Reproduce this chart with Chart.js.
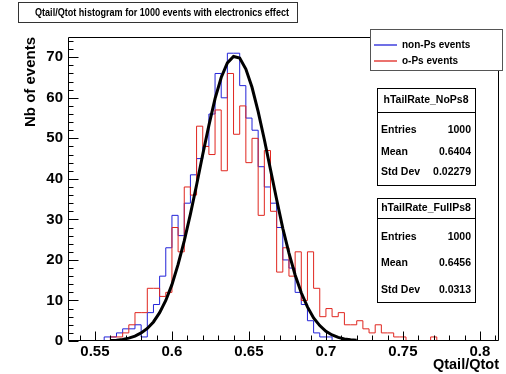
<!DOCTYPE html>
<html><head><meta charset="utf-8">
<script src="https://cdn.jsdelivr.net/npm/chart.js@4.4.0/dist/chart.umd.min.js"></script>
<style>html,body{margin:0;padding:0;background:#fff;overflow:hidden}canvas{display:block}</style>
</head><body>
<canvas id="c" width="506" height="374"></canvas>
<script>
// ---- data ----
const binEdges = [0.556,0.560,0.564,0.568,0.572,0.576,0.580,0.584,0.588,0.592,0.596,0.600,0.604,0.608,0.612,0.616,0.620,0.624,0.628,0.632,0.636,0.640,0.644,0.648,0.652,0.656,0.660,0.664,0.668,0.672,0.676,0.680,0.684,0.688,0.692,0.696,0.700,0.704,0.708,0.712,0.716,0.720,0.724,0.728,0.732,0.736,0.740,0.744,0.748,0.752,0.756,0.760,0.764,0.768,0.772,0.776];
const nonPsCounts = [0,1,1,2,3,3,4,1,7,9,16,23,31,26,34,41,45,48,56,66,60,71,71,63,55,52,43,38,34,28,20,18,12,9,5,2,1,1,0,0,0,0,0,0,0,0,0,0,0,0,0,0,0,0,0,0];
const oPsCounts = [0,0,1,1,2,4,7,7,13,13,11,12,28,22,38,36,53,48,46,57,42,66,51,58,44,50,31,47,32,17,23,16,22,10,22,13,6,8,6,7,4,4,5,3,2,4,2,2,1,1,0,0,0,0,1,0];
const curveX = [0.560,0.564,0.568,0.572,0.576,0.580,0.584,0.588,0.592,0.596,0.600,0.604,0.608,0.612,0.616,0.620,0.624,0.628,0.632,0.636,0.640,0.644,0.648,0.652,0.656,0.660,0.664,0.668,0.672,0.676,0.680,0.684,0.688,0.692,0.696,0.700,0.704,0.708,0.712,0.716,0.720];
const curveY = [0.1,0.2,0.4,0.7,1.2,2.0,3.1,4.7,7.0,10.0,13.9,18.9,24.7,31.3,38.5,46.0,53.2,59.8,65.0,68.6,70.2,69.8,67.1,62.6,56.6,49.7,42.3,34.9,27.8,21.7,16.3,11.9,8.4,5.7,3.8,2.4,1.5,0.9,0.5,0.3,0.2];
const xTickValues = [0.55,0.6,0.65,0.7,0.75,0.8];
const yTickValues = [0,10,20,30,40,50,60,70];
const titleText = 'Qtail/Qtot histogram for 1000 events with electronics effect';
const legendLabels = ['non-Ps events','o-Ps events'];
const statsNoPsName = 'hTailRate_NoPs8';
const statsNoPsRows = [['Entries','1000'],['Mean','0.6404'],['Std Dev','0.02279']];
const statsFullPsName = 'hTailRate_FullPs8';
const statsFullPsRows = [['Entries','1000'],['Mean','0.6456'],['Std Dev','0.0313']];

const FONT = "'Liberation Sans', Arial, Helvetica, sans-serif";
const BLUE = '#2323d8';
const RED = '#e0261f';

const decor = {
  id: 'decor',
  afterDatasetsDraw(chart) {
    const {ctx, chartArea: a, scales: {x, y}} = chart;
    ctx.save();
    ctx.strokeStyle = '#000';
    ctx.lineWidth = 1;
    const L = Math.round(a.left) + 0.5, R = Math.round(a.right) - 0.5;
    const T = Math.round(a.top) + 0.5, B = Math.round(a.bottom) - 0.5;
    ctx.beginPath();
    ctx.rect(L, T, R - L, B - T);
    ctx.stroke();
    ctx.beginPath();
    for (let k = 54; k <= 81; k++) {
      const px = Math.round(x.getPixelForValue(k / 100)) + 0.5;
      if (px < a.left || px > a.right) continue;
      const len = (k % 5 === 0) ? 9 : 5;
      ctx.moveTo(px, B); ctx.lineTo(px, B - len);
    }
    for (let k = 0; k <= 74; k += 2) {
      const py = Math.round(y.getPixelForValue(k)) + 0.5;
      const len = (k % 10 === 0) ? 10 : 5;
      ctx.moveTo(L, py); ctx.lineTo(L + len, py);
    }
    ctx.stroke();
    ctx.restore();
  },
  afterDraw(chart) {
    const ctx = chart.ctx;
    ctx.save();
    ctx.lineWidth = 1;
    // Title box
    ctx.fillStyle = '#fff';
    ctx.strokeStyle = '#333';
    ctx.fillRect(18.5, 2.5, 279, 20);
    ctx.strokeRect(18.5, 2.5, 279, 20);
    ctx.fillStyle = '#000';
    ctx.font = `bold 10.5px ${FONT}`;
    ctx.textBaseline = 'middle';
    ctx.textAlign = 'left';
    ctx.fillText(titleText, 35, 13, 254);

    // Legend
    ctx.fillStyle = '#fff';
    ctx.fillRect(370.5, 29.5, 132, 41);
    ctx.strokeStyle = '#555';
    ctx.strokeRect(370.5, 29.5, 132, 41);
    const cols = [BLUE, RED];
    const ly = [45, 61];
    ctx.font = `bold 10px ${FONT}`;
    for (let i = 0; i < 2; i++) {
      ctx.beginPath();
      ctx.strokeStyle = cols[i];
      ctx.lineWidth = 1.3;
      ctx.moveTo(374, ly[i]); ctx.lineTo(397, ly[i]);
      ctx.stroke();
      ctx.fillStyle = '#000';
      ctx.fillText(legendLabels[i], 402, ly[i]);
    }
    ctx.lineWidth = 1;

    function stats(x0, y0, x1, y1, name, nameY, sepY, rows, rowYs) {
      ctx.fillStyle = '#fff';
      ctx.fillRect(x0 + 0.5, y0 + 0.5, x1 - x0, y1 - y0);
      ctx.strokeStyle = '#000';
      ctx.strokeRect(x0 + 0.5, y0 + 0.5, x1 - x0, y1 - y0);
      ctx.beginPath();
      ctx.moveTo(x0, sepY + 0.5); ctx.lineTo(x1, sepY + 0.5);
      ctx.stroke();
      ctx.fillStyle = '#000';
      ctx.font = `bold 10.5px ${FONT}`;
      ctx.textAlign = 'center';
      ctx.fillText(name, (x0 + x1) / 2, nameY);
      rows.forEach((r, i) => {
        ctx.textAlign = 'left';
        ctx.fillText(r[0], x0 + 4, rowYs[i]);
        ctx.textAlign = 'right';
        ctx.fillText(r[1], x1 - 4, rowYs[i]);
      });
    }
    stats(377, 88, 475, 185, statsNoPsName, 100, 112, statsNoPsRows, [130, 152, 172]);
    stats(377, 198, 475, 302, statsFullPsName, 208, 218, statsFullPsRows, [237, 263, 290]);
    ctx.restore();
  }
};

const histPoints = (counts) => binEdges.map((e, i) => ({x: e, y: counts[i]}));

new Chart(document.getElementById('c'), {
  type: 'line',
  data: {
    datasets: [
      {label: 'fit', data: curveX.map((v, i) => ({x: v, y: curveY[i]})), borderColor: '#000', borderWidth: 3, pointRadius: 0, tension: 0, fill: false},
      {label: legendLabels[1], data: histPoints(oPsCounts), borderColor: RED, borderWidth: 1, pointRadius: 0, stepped: 'after', fill: false},
      {label: legendLabels[0], data: histPoints(nonPsCounts), borderColor: BLUE, borderWidth: 1, pointRadius: 0, stepped: 'after', fill: false}
    ]
  },
  options: {
    responsive: false,
    animation: false,
    devicePixelRatio: 1,
    layout: {padding: {top: 37, right: 7, left: 0, bottom: 0}},
    plugins: {legend: {display: false}, tooltip: {enabled: false}, title: {display: false}},
    scales: {
      x: {
        type: 'linear', min: 0.5325, max: 0.8124,
        afterBuildTicks: s => { s.ticks = xTickValues.map(v => ({value: v})); },
        afterFit: s => { s.height = 33; },
        grid: {display: false, drawTicks: false},
        border: {display: false},
        ticks: {color: '#000', font: {family: FONT, size: 15, weight: 'bold'}, padding: 2, maxRotation: 0, autoSkip: false, callback: v => String(v)},
        title: {display: true, text: 'Qtail/Qtot', align: 'end', color: '#000', font: {family: FONT, size: 14.5, weight: 'bold'}, padding: {top: 0, bottom: 0}}
      },
      y: {
        type: 'linear', min: 0, max: 75,
        afterBuildTicks: s => { s.ticks = yTickValues.map(v => ({value: v})); },
        afterFit: s => { s.width = 68; },
        grid: {display: false, drawTicks: false},
        border: {display: false},
        ticks: {color: '#000', font: {family: FONT, size: 15, weight: 'bold'}, padding: 5, autoSkip: false},
        title: {display: true, text: 'Nb of events', align: 'end', color: '#000', font: {family: FONT, size: 15, weight: 'bold'}, padding: {top: 22, bottom: 0}}
      }
    }
  },
  plugins: [decor]
});
</script>
</body></html>
